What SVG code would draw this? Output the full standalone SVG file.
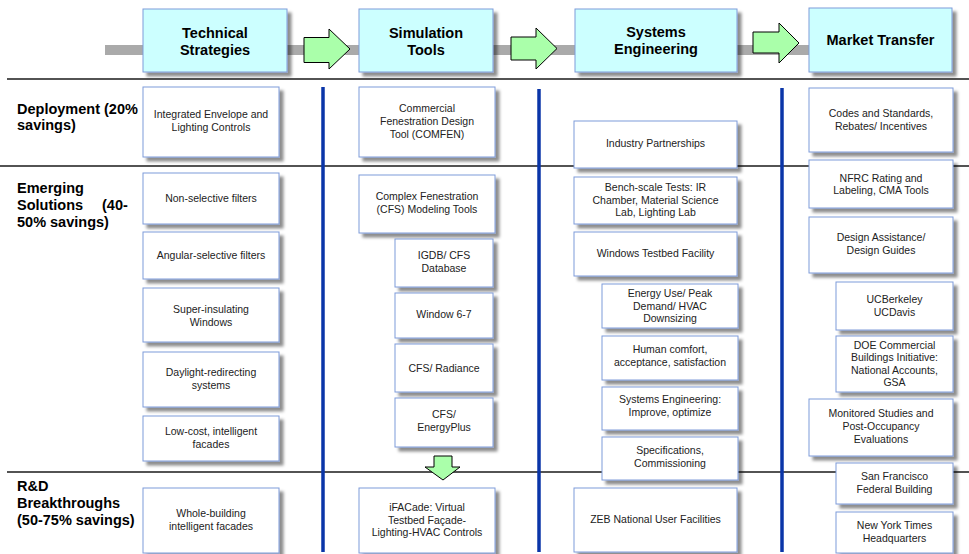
<svg xmlns="http://www.w3.org/2000/svg" width="969" height="554" viewBox="0 0 969 554">
  <defs>
    <filter id="sh" x="-10%" y="-10%" width="130%" height="140%">
      <feGaussianBlur in="SourceAlpha" stdDeviation="1.6" result="b"/>
      <feOffset in="b" dx="3.5" dy="3.5" result="o"/>
      <feFlood flood-color="#000" flood-opacity="0.45"/>
      <feComposite in2="o" operator="in" result="s"/>
      <feMerge><feMergeNode in="s"/><feMergeNode in="SourceGraphic"/></feMerge>
    </filter>
  </defs>
  <style>
    .box { fill: #ffffff; stroke: #7f9bd9; stroke-width: 1; filter: url(#sh); }
    .hbox { fill: #ccffff; stroke: #7f9bd9; stroke-width: 1; filter: url(#sh); }
    .t { font-family: "Liberation Sans", Arial, sans-serif; font-size: 10.5px; fill: #222; text-anchor: middle; }
    .h { font-family: "Liberation Sans", Arial, sans-serif; font-size: 14.5px; font-weight: bold; fill: #000; text-anchor: middle; }
    .lbl { font-family: "Liberation Sans", Arial, sans-serif; font-size: 14.5px; font-weight: bold; fill: #000; }
    .row { stroke: #1a1a1a; stroke-width: 1.5; }
    .col { stroke: #0a35a8; stroke-width: 3.5; }
    .arr { fill: #aaffaa; stroke: #000; stroke-width: 1; }
  </style>

  <rect width="969" height="554" fill="#ffffff"/>

  <!-- row separators and column dividers -->
  <g id="grid">
    <line class="row" x1="7" y1="79" x2="969" y2="79"/>
    <line class="row" x1="0" y1="166" x2="969" y2="166"/>
    <line class="row" x1="7" y1="472" x2="969" y2="472"/>
    <line class="col" x1="323" y1="87" x2="323" y2="552"/>
    <line class="col" x1="539" y1="89" x2="539" y2="552"/>
    <line class="col" x1="782" y1="88" x2="782" y2="552"/>
  </g>

  <!-- process flow bar with arrows -->
  <g id="connectors">
    <rect x="105" y="45" width="720" height="10" fill="#aaaaaa"/>
    <polygon class="arr" points="304,37.5 329,37.5 329,29 350,49 329,69 329,62.5 304,62.5"/>
    <polygon class="arr" points="511,37 536,37 536,28 557,48.5 536,69 536,60 511,60"/>
    <polygon class="arr" points="753,32 779,32 779,23 799,43 779,63 779,53 753,53"/>
    <polygon class="arr" points="434,456 452,456 452,467 460,467 443,480 425,467 434,467"/>
  </g>

  <!-- column headers -->
  <g id="hdr-technical">
    <rect class="hbox" x="143" y="9" width="144" height="63"/>
    <text class="h" x="215" y="38">Technical</text>
    <text class="h" x="215" y="55">Strategies</text>
  </g>
  <g id="hdr-simulation">
    <rect class="hbox" x="359" y="9" width="134" height="63"/>
    <text class="h" x="426" y="38">Simulation</text>
    <text class="h" x="426" y="55">Tools</text>
  </g>
  <g id="hdr-systems">
    <rect class="hbox" x="575" y="9" width="162" height="63"/>
    <text class="h" x="656" y="37">Systems</text>
    <text class="h" x="656" y="54">Engineering</text>
  </g>
  <g id="hdr-market">
    <rect class="hbox" x="809" y="8" width="143" height="64"/>
    <text class="h" x="880.5" y="45">Market Transfer</text>
  </g>

  <!-- row labels -->
  <g id="lbl-deployment">
    <text class="lbl" x="17" y="114">Deployment (20%</text>
    <text class="lbl" x="17" y="130">savings)</text>
  </g>
  <g id="lbl-emerging">
    <text class="lbl" x="17" y="193">Emerging</text>
    <text class="lbl" x="17" y="210">Solutions<tspan x="102">(40-</tspan></text>
    <text class="lbl" x="17" y="227">50% savings)</text>
  </g>
  <g id="lbl-rd">
    <text class="lbl" x="17" y="491">R&amp;D</text>
    <text class="lbl" x="17" y="508">Breakthroughs</text>
    <text class="lbl" x="17" y="525">(50-75% savings)</text>
  </g>

  <!-- Technical Strategies column -->
  <g id="ts-envelope">
    <rect class="box" x="143" y="87" width="136" height="70"/>
    <text class="t" x="211" y="118">Integrated Envelope and</text>
    <text class="t" x="211" y="131">Lighting Controls</text>
  </g>
  <g id="ts-nonselective">
    <rect class="box" x="143" y="173" width="136" height="51"/>
    <text class="t" x="211" y="202">Non-selective filters</text>
  </g>
  <g id="ts-angular">
    <rect class="box" x="143" y="232" width="136" height="47"/>
    <text class="t" x="211" y="259">Angular-selective filters</text>
  </g>
  <g id="ts-superinsulating">
    <rect class="box" x="143" y="288" width="136" height="54"/>
    <text class="t" x="211" y="312.5">Super-insulating</text>
    <text class="t" x="211" y="325.5">Windows</text>
  </g>
  <g id="ts-daylight">
    <rect class="box" x="143" y="352" width="136" height="55"/>
    <text class="t" x="211" y="376">Daylight-redirecting</text>
    <text class="t" x="211" y="389">systems</text>
  </g>
  <g id="ts-lowcost">
    <rect class="box" x="143" y="416" width="136" height="45"/>
    <text class="t" x="211" y="434.5">Low-cost, intelligent</text>
    <text class="t" x="211" y="447.5">facades</text>
  </g>
  <g id="ts-wholebuilding">
    <rect class="box" x="143" y="488" width="136" height="65"/>
    <text class="t" x="211" y="517">Whole-building</text>
    <text class="t" x="211" y="530">intelligent facades</text>
  </g>

  <!-- Simulation Tools column -->
  <g id="st-comfen">
    <rect class="box" x="359" y="87" width="136" height="70"/>
    <text class="t" x="427" y="112">Commercial</text>
    <text class="t" x="427" y="125">Fenestration Design</text>
    <text class="t" x="427" y="138">Tool (COMFEN)</text>
  </g>
  <g id="st-cfs">
    <rect class="box" x="359" y="175" width="136" height="58"/>
    <text class="t" x="427" y="200">Complex Fenestration</text>
    <text class="t" x="427" y="213">(CFS) Modeling Tools</text>
  </g>
  <g id="st-igdb">
    <rect class="box" x="395" y="239" width="98" height="48"/>
    <text class="t" x="444" y="258.5">IGDB/ CFS</text>
    <text class="t" x="444" y="271.5">Database</text>
  </g>
  <g id="st-window">
    <rect class="box" x="395" y="293" width="98" height="45"/>
    <text class="t" x="444" y="318">Window 6-7</text>
  </g>
  <g id="st-radiance">
    <rect class="box" x="395" y="344" width="98" height="48"/>
    <text class="t" x="444" y="371.5">CFS/ Radiance</text>
  </g>
  <g id="st-energyplus">
    <rect class="box" x="395" y="398" width="98" height="49"/>
    <text class="t" x="444" y="418">CFS/</text>
    <text class="t" x="444" y="431">EnergyPlus</text>
  </g>
  <g id="st-ifacade">
    <rect class="box" x="359" y="488" width="136" height="65"/>
    <text class="t" x="427" y="511">iFACade: Virtual</text>
    <text class="t" x="427" y="523.5">Testbed Façade-</text>
    <text class="t" x="427" y="536">Lighting-HVAC Controls</text>
  </g>

  <!-- Systems Engineering column -->
  <g id="se-industry">
    <rect class="box" x="574" y="121" width="163" height="47"/>
    <text class="t" x="655.5" y="147">Industry Partnerships</text>
  </g>
  <g id="se-bench">
    <rect class="box" x="574" y="177" width="163" height="47"/>
    <text class="t" x="655.5" y="191">Bench-scale Tests: IR</text>
    <text class="t" x="655.5" y="203.5">Chamber, Material Science</text>
    <text class="t" x="655.5" y="216">Lab, Lighting Lab</text>
  </g>
  <g id="se-testbed">
    <rect class="box" x="574" y="232" width="163" height="44"/>
    <text class="t" x="655.5" y="257">Windows Testbed Facility</text>
  </g>
  <g id="se-energy">
    <rect class="box" x="602" y="284" width="136" height="44"/>
    <text class="t" x="670" y="297">Energy Use/ Peak</text>
    <text class="t" x="670" y="309.5">Demand/ HVAC</text>
    <text class="t" x="670" y="322">Downsizing</text>
  </g>
  <g id="se-comfort">
    <rect class="box" x="602" y="336" width="136" height="44"/>
    <text class="t" x="670" y="353">Human comfort,</text>
    <text class="t" x="670" y="366">acceptance, satisfaction</text>
  </g>
  <g id="se-optimize">
    <rect class="box" x="602" y="387" width="136" height="43"/>
    <text class="t" x="670" y="403">Systems Engineering:</text>
    <text class="t" x="670" y="416">Improve, optimize</text>
  </g>
  <g id="se-specs">
    <rect class="box" x="602" y="437" width="136" height="43"/>
    <text class="t" x="670" y="454">Specifications,</text>
    <text class="t" x="670" y="467">Commissioning</text>
  </g>
  <g id="se-zeb">
    <rect class="box" x="574" y="488" width="163" height="64"/>
    <text class="t" x="655.5" y="523">ZEB National User Facilities</text>
  </g>

  <!-- Market Transfer column -->
  <g id="mt-codes">
    <rect class="box" x="809" y="88" width="144" height="64"/>
    <text class="t" x="881" y="117">Codes and Standards,</text>
    <text class="t" x="881" y="129.5">Rebates/ Incentives</text>
  </g>
  <g id="mt-nfrc">
    <rect class="box" x="809" y="160" width="144" height="48"/>
    <text class="t" x="881" y="182">NFRC Rating and</text>
    <text class="t" x="881" y="194">Labeling, CMA Tools</text>
  </g>
  <g id="mt-design">
    <rect class="box" x="809" y="217" width="144" height="56"/>
    <text class="t" x="881" y="241">Design Assistance/</text>
    <text class="t" x="881" y="254">Design Guides</text>
  </g>
  <g id="mt-uc">
    <rect class="box" x="836" y="282" width="117" height="48"/>
    <text class="t" x="894.5" y="303">UCBerkeley</text>
    <text class="t" x="894.5" y="315.5">UCDavis</text>
  </g>
  <g id="mt-doe">
    <rect class="box" x="836" y="336" width="117" height="56"/>
    <text class="t" x="894.5" y="348.5">DOE Commercial</text>
    <text class="t" x="894.5" y="361">Buildings Initiative:</text>
    <text class="t" x="894.5" y="373.5">National Accounts,</text>
    <text class="t" x="894.5" y="386">GSA</text>
  </g>
  <g id="mt-monitored">
    <rect class="box" x="809" y="399" width="144" height="57"/>
    <text class="t" x="881" y="417">Monitored Studies and</text>
    <text class="t" x="881" y="430">Post-Occupancy</text>
    <text class="t" x="881" y="443">Evaluations</text>
  </g>
  <g id="mt-sf">
    <rect class="box" x="836" y="463" width="117" height="41"/>
    <text class="t" x="894.5" y="480">San Francisco</text>
    <text class="t" x="894.5" y="493">Federal Building</text>
  </g>
  <g id="mt-nyt">
    <rect class="box" x="836" y="512" width="117" height="41"/>
    <text class="t" x="894.5" y="529">New York Times</text>
    <text class="t" x="894.5" y="542">Headquarters</text>
  </g>
</svg>
